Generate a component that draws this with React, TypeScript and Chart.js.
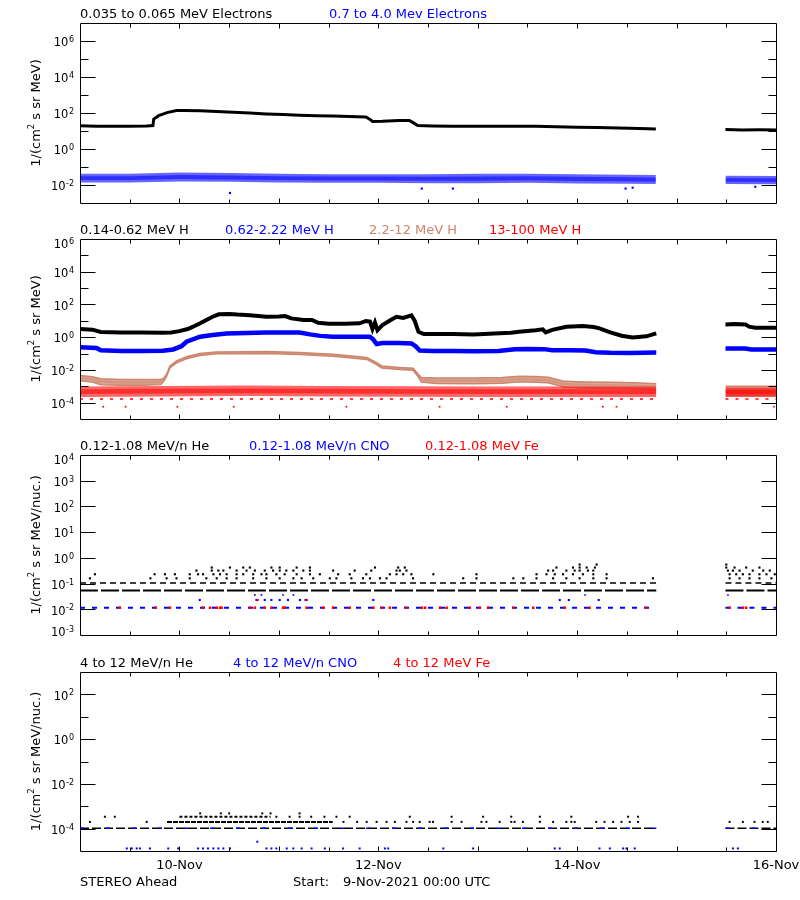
import React, { useEffect, useRef } from "react";
import { Chart, registerables } from "chart.js";

Chart.register(...registerables);

// ---------------- shared ----------------
const FONT = "'DejaVu Sans', 'Liberation Sans', sans-serif";
const C_BLACK = "#000000";
const C_BLUE = "#0000ff";
const C_RED = "#ff0000";
const C_TAN = "#cd856c";

const HOURS_MIN = 0;
const HOURS_MAX = 168;
const TICK_HOURS = [12, 24, 36, 48, 60, 72, 84, 96, 108, 120, 132, 144, 156];
const DAY_LABEL_HOURS = [24, 72, 120, 168];
const DAY_LABELS = ["10-Nov", "12-Nov", "14-Nov", "16-Nov"];
const FOOTER_LEFT = "STEREO Ahead";
const FOOTER_START = "Start:";
const FOOTER_DATE = "9-Nov-2021 00:00 UTC";
const DATA_SEGMENTS = [[0, 139.1], [155.8, 168]];

// ---------------- panel 1 : electrons ----------------
const P1_TITLES = ["0.035 to 0.065 MeV Electrons", "0.7 to 4.0 Mev Electrons"];
const E_LO_HOURS = [0, 4, 8, 12, 16, 17.6, 17.8, 19, 21, 23.3, 25, 29, 33, 37, 41, 45, 49, 53, 57, 61, 65, 69, 70.2, 70.6, 73, 77, 79.5, 80.5, 81.5, 85, 90, 95, 100, 105, 110, 115, 120, 125, 130, 135, 139, 147, 155.8, 160, 164, 168];
const E_LO_LOG10 = [1.29, 1.27, 1.26, 1.27, 1.28, 1.30, 1.66, 1.85, 2.02, 2.14, 2.14, 2.13, 2.08, 2.04, 2.0, 1.95, 1.91, 1.87, 1.85, 1.83, 1.81, 1.78, 1.62, 1.53, 1.54, 1.58, 1.58, 1.45, 1.30, 1.28, 1.27, 1.27, 1.26, 1.27, 1.26, 1.24, 1.21, 1.20, 1.17, 1.14, 1.11, null, 1.08, 1.06, 1.07, 1.06];
const E_HI_HOURS = [0, 12, 24, 36, 48, 60, 72, 84, 96, 108, 120, 132, 139, 147, 155.8, 168];
const E_HI_LOG10 = [-1.62, -1.62, -1.55, -1.58, -1.62, -1.64, -1.64, -1.65, -1.64, -1.63, -1.66, -1.68, -1.70, null, -1.72, -1.73];
const E_HI_SPREAD = [0.24, 0.24, 0.25, 0.24, 0.24, 0.24, 0.24, 0.25, 0.26, 0.25, 0.26, 0.25, 0.25, null, 0.23, 0.23];
const E_HI_OUT_HOURS = [36.2, 82.5, 90, 131.7, 133.4, 163];
const E_HI_OUT_LOG10 = [-2.44, -2.2, -2.2, -2.2, -2.15, -2.1];

// ---------------- panel 2 : protons ----------------
const P2_TITLES = ["0.14-0.62 MeV H", "0.62-2.22 MeV H", "2.2-12 MeV H", "13-100 MeV H"];
const H1_HOURS = [0, 3, 5, 10, 15, 20, 22, 24, 26, 27.3, 29, 30.5, 32, 33.5, 36, 38, 41, 45, 48, 49.5, 51, 54, 56, 57.5, 60, 64, 67.5, 69, 70, 70.6, 71.2, 71.8, 73, 75, 76.4, 78, 80, 80.8, 81.7, 83, 90, 95, 100, 104, 106, 110, 111.7, 112.4, 114, 117.4, 121.4, 124, 125.4, 128, 130.7, 133.4, 136.7, 139.1, 147, 155.8, 158, 160.6, 161.5, 163, 168];
const H1_LOG10 = [0.50, 0.46, 0.32, 0.29, 0.29, 0.27, 0.29, 0.37, 0.50, 0.64, 0.85, 1.05, 1.25, 1.40, 1.42, 1.38, 1.34, 1.25, 1.27, 1.29, 1.15, 1.05, 1.05, 0.88, 0.82, 0.82, 0.85, 0.99, 0.95, 0.50, 0.90, 0.43, 0.74, 1.05, 1.25, 1.18, 1.33, 1.00, 0.33, 0.19, 0.19, 0.17, 0.22, 0.27, 0.33, 0.42, 0.48, 0.29, 0.45, 0.64, 0.68, 0.62, 0.54, 0.29, 0.09, -0.02, 0.05, 0.23, null, 0.78, 0.80, 0.78, 0.64, 0.58, 0.58];
const H2_HOURS = [0, 4, 5, 10, 15, 20, 22.5, 24.5, 25.7, 29, 32, 35.4, 45, 53, 55.5, 58, 61, 66, 70, 70.8, 71.6, 73, 77, 80, 81, 82, 85, 90, 95, 101, 105, 108, 112, 114, 118, 122, 124.5, 128, 133, 139.1, 147, 155.8, 160.6, 162, 168];
const H2_LOG10 = [-0.62, -0.66, -0.80, -0.84, -0.84, -0.83, -0.75, -0.55, -0.28, 0.03, 0.13, 0.23, 0.29, 0.28, 0.17, 0.08, 0.03, 0.02, 0.02, -0.15, -0.42, -0.36, -0.36, -0.38, -0.55, -0.82, -0.85, -0.85, -0.86, -0.84, -0.74, -0.72, -0.73, -0.80, -0.80, -0.82, -0.92, -0.95, -0.96, -0.94, null, -0.69, -0.69, -0.75, -0.75];
const H3_HOURS = [0, 3, 5, 10, 15, 19.5, 20.2, 20.9, 21.7, 23.3, 25.7, 28.9, 32.9, 40, 45, 53, 61, 65, 69.2, 71.6, 72.8, 77.2, 80.4, 81.6, 82.4, 86, 95, 102, 106, 110, 113, 117, 122, 128, 134, 139.1, 147, 155.8, 168];
const H3_LOG10 = [-2.50, -2.58, -2.72, -2.76, -2.76, -2.74, -2.60, -2.33, -1.82, -1.51, -1.26, -1.06, -0.96, -0.95, -0.94, -1.00, -1.10, -1.20, -1.30, -1.61, -1.82, -1.92, -1.96, -2.33, -2.60, -2.66, -2.67, -2.64, -2.56, -2.58, -2.62, -2.88, -2.92, -2.94, -2.97, -3.02, null, -3.30, -3.30];
const H3_SPREAD = [0.16, 0.16, 0.18, 0.18, 0.18, 0.16, 0.10, 0.07, 0.06, 0.06, 0.06, 0.06, 0.06, 0.06, 0.06, 0.06, 0.06, 0.06, 0.06, 0.06, 0.06, 0.06, 0.06, 0.08, 0.14, 0.17, 0.17, 0.17, 0.17, 0.17, 0.17, 0.18, 0.18, 0.18, 0.18, 0.18, null, 0.3, 0.3];
const H4_HOURS = [0, 20, 40, 60, 80, 100, 120, 139.1, 147, 155.8, 168];
const H4_LOG10 = [-3.33, -3.30, -3.28, -3.30, -3.32, -3.33, -3.33, -3.34, null, -3.36, -3.36];
const H4_SPREAD = [0.32, 0.32, 0.32, 0.32, 0.32, 0.32, 0.32, 0.32, null, 0.28, 0.28];
const H4_LOW_ROW_LOG10 = -3.78;
const H4_OUT_HOURS = [5.6, 11, 23.5, 37.1, 64.3, 86.8, 103, 126.2, 129.5, 167.5];
const H4_OUT_LOG10 = -4.25;

// ---------------- panel 3 : 0.12-1.08 MeV/n ions ----------------
const P3_TITLES = ["0.12-1.08 MeV/n He", "0.12-1.08 MeV/n CNO", "0.12-1.08 MeV Fe"];
const HE3_ROW_LOW = 0.054;
const HE3_ROW_HIGH = 0.105;
const HE3_HOURS_AT_016 = [2.4, 17, 20.9, 23.3, 26.5, 30.5, 33, 35.4, 37.8, 41.8, 45, 48.2, 51.5, 53.5, 56.3, 60.3, 61.9, 65.5, 68.3, 70, 72.4, 74, 80.4, 92.5, 95.7, 104.6, 107, 110.2, 114.2, 117.4, 120.6, 123.9, 127.1, 138.3, 156.8, 159.2, 161.6, 164, 166.9];
const HE3_HOURS_AT_023 = [3.6, 18, 20.5, 22.9, 26.5, 28.5, 29.7, 32.2, 33.8, 35.4, 37.8, 39.4, 41.8, 43.8, 45, 47.4, 49.4, 52.3, 55.5, 57.9, 62.3, 65.1, 69.1, 74.8, 76.4, 78, 80, 85.3, 95.7, 110.2, 112.6, 114.6, 116.6, 119, 121.4, 123.9, 127.1, 156.8, 158.4, 160, 161.6, 164, 165.7, 167.7];
const HE3_HOURS_AT_032 = [28.1, 31.8, 33.4, 34.6, 37.8, 40.2, 42.2, 44.6, 46.6, 48.2, 49.8, 51.5, 53.9, 55.5, 61.1, 66.3, 70.3, 76.4, 77.2, 78.8, 113, 114.2, 117.4, 119.4, 120.6, 122.6, 123.9, 156.4, 157.6, 159.2, 162.4, 164.9, 166.5];
const HE3_HOURS_AT_042 = [31.8, 36.2, 39.4, 41, 46.2, 48.2, 52.3, 55.5, 71.2, 76.8, 78.4, 115, 119, 120.6, 122.3, 124.3, 156, 158, 160.8, 164];
const HE3_HOURS_AT_055 = [120.6, 124.7, 156];
const CNO3_ROW = 0.0115;
const CNO3_HOURS_AT_0023 = [28.9, 42.6, 44.6, 46.2, 48.2, 50.2, 53.1, 54.7, 70.8, 115.8, 118, 125.2];
const CNO3_HOURS_AT_0036 = [42.2, 43.8, 49, 51.5, 121.9, 156.4];
const FE3_HOURS_AT_00115 = [9.6, 18.3, 21.7, 29.7, 31.4, 33, 33.8, 34.2, 41, 42.2, 44.6, 46.2, 49, 49.4, 54.7, 58.7, 61.1, 65.1, 70.8, 72.8, 74.8, 78.8, 82.5, 83.3, 86.9, 88.5, 94.1, 96.5, 98.5, 104.6, 109.4, 117, 123, 136.7, 156.8, 160, 160.8];
const FE3_HOURS_AT_0023 = [42.9, 54.4];

// ---------------- panel 4 : 4-12 MeV/n ions ----------------
const P4_TITLES = ["4 to 12 MeV/n He", "4 to 12 MeV/n CNO", "4 to 12 MeV Fe"];
const HE4_ROW = 1.05e-4;
const HE4_LEVEL_2 = 2.0e-4;
const HE4_LEVEL_3 = 3.4e-4;
const HE4_LEVEL_4 = 4.8e-4;
const HE4_DENSE_2 = [21, 61];
const HE4_DENSE_3 = [24, 46];
const HE4_HOURS_AT_2 = [2.4, 16.1, 63.6, 66.9, 69.2, 71.6, 74, 76, 78.8, 80.4, 82, 84.4, 85.2, 89.7, 92.1, 96.9, 98.1, 101.3, 104.1, 104.9, 106.9, 111, 114.2, 117.4, 118.6, 119.4, 124.6, 126.6, 128.7, 130.7, 132.7, 134.7, 156.8, 160, 162.8, 164.8, 166];
const HE4_HOURS_AT_3 = [6, 8.4, 47.4, 50.6, 53, 55.8, 59, 61.9, 65.1, 79.6, 89.7, 97.3, 104.1, 111, 118.6, 132.3, 134.7];
const HE4_HOURS_AT_4 = [29, 34, 36, 44, 46, 53];
const CNO4_LOW = 1.3e-5;
const CNO4_HOURS_AT_LOW = [11.3, 12.5, 13.7, 14.5, 16.9, 21.3, 23.7, 28.5, 29.7, 30.9, 32.2, 33.4, 34.6, 36.2, 45, 46.2, 47.4, 49.9, 51.5, 53.5, 55.9, 59.1, 63.5, 67.5, 73.6, 74.4, 87.7, 94.9, 114.6, 115.8, 125.4, 127.9, 131.1, 131.9, 133.9, 157.6, 158.8];
const CNO4_MID = 2.6e-5;
const CNO4_HOURS_AT_MID = [42.8];

const Y_TITLE_MEV = ["1/(cm", "2", " s sr MeV)"];
const Y_TITLE_NUC = ["1/(cm", "2", " s sr MeV/nuc.)"];

// ---------------- helpers ----------------
const logPoints = (hours, logs) => hours.map((h, i) => ({ x: h, y: logs[i] === null ? null : Math.pow(10, logs[i]) }));
const bandPoints = (hours, logs, spread, k) => hours.map((h, i) => ({ x: h, y: logs[i] === null ? null : Math.pow(10, logs[i] + k * spread[i]) }));
const levelPoints = (hours, value) => hours.map((h) => ({ x: h, y: value }));
const rowPoints = (segments, value) => {
  const pts = [];
  segments.forEach((s, i) => {
    if (i > 0) pts.push({ x: (segments[i - 1][1] + s[0]) / 2, y: null });
    pts.push({ x: s[0], y: value }, { x: s[1], y: value });
  });
  return pts;
};

const lineDs = (data, color, width, extra = {}) => ({
  data, borderColor: color, backgroundColor: color, borderWidth: width,
  pointRadius: 0, pointHoverRadius: 0, fill: false, spanGaps: false, ...extra,
});
const dotDs = (data, color, radius, extra = {}) => ({
  data, showLine: false, borderColor: color, backgroundColor: color,
  pointBackgroundColor: color, pointBorderWidth: 0, pointRadius: radius,
  pointHoverRadius: 0, pointStyle: "rect", ...extra,
});
// a noisy band: outer envelope filled, inner (half-spread) core filled again -> denser centre
const bandDs = (hours, logs, spread, edgeColor, outerFill, innerFill, edge, order) => {
  const mk = (k, fill, w, bg) => ({
    data: bandPoints(hours, logs, spread, k), borderColor: edgeColor, backgroundColor: bg,
    borderWidth: w, pointRadius: 0, pointHoverRadius: 0, fill, spanGaps: false, order,
  });
  return [mk(1, "+1", edge, outerFill), mk(-1, false, edge, outerFill), mk(0.45, "+1", 0, innerFill), mk(-0.45, false, 0, innerFill)];
};

// ---------------- panel specs ----------------
const PANELS = [
  {
    top: 0, height: 216, padTop: 23, padBottom: 13, yMinExp: -3, yMaxExp: 7,
    majors: [-2, 0, 2, 4, 6], minors: [-1, 1, 3, 5], labels: [-2, 0, 2, 4, 6],
    titles: [{ text: P1_TITLES[0], color: C_BLACK, x: 80 }, { text: P1_TITLES[1], color: C_BLUE, x: 329 }],
    yTitle: Y_TITLE_MEV, dates: false,
    datasets: () => [
      lineDs(logPoints(E_LO_HOURS, E_LO_LOG10), C_BLACK, 3, { order: 1 }),
      ...bandDs(E_HI_HOURS, E_HI_LOG10, E_HI_SPREAD, "rgba(0,0,255,0)", "rgba(0,0,255,0.6)", "rgba(0,0,255,0.55)", 0, 2),
      dotDs(logPoints(E_HI_OUT_HOURS, E_HI_OUT_LOG10), C_BLUE, 1.5, { order: 2 }),
    ],
  },
  {
    top: 216, height: 216, padTop: 23, padBottom: 13, yMinExp: -5, yMaxExp: 6,
    majors: [-4, -2, 0, 2, 4], minors: [-3, -1, 1, 3, 5], labels: [-4, -2, 0, 2, 4, 6],
    titles: [
      { text: P2_TITLES[0], color: C_BLACK, x: 80 }, { text: P2_TITLES[1], color: C_BLUE, x: 225 },
      { text: P2_TITLES[2], color: C_TAN, x: 369 }, { text: P2_TITLES[3], color: C_RED, x: 489 },
    ],
    yTitle: Y_TITLE_MEV, dates: false,
    datasets: () => [
      lineDs(logPoints(H1_HOURS, H1_LOG10), C_BLACK, 4, { order: 1 }),
      lineDs(logPoints(H2_HOURS, H2_LOG10), C_BLUE, 4.5, { order: 2 }),
      ...bandDs(H3_HOURS, H3_LOG10, H3_SPREAD, C_TAN, "rgba(205,133,108,0.7)", "rgba(205,133,108,0.5)", 1.5, 4),
      ...bandDs(H4_HOURS, H4_LOG10, H4_SPREAD, "rgba(255,0,0,0)", "rgba(255,0,0,0.6)", "rgba(255,0,0,0.55)", 0, 3),
      lineDs(rowPoints(DATA_SEGMENTS, Math.pow(10, H4_LOW_ROW_LOG10)), C_RED, 1.5, { borderDash: [3, 7], order: 3 }),
      dotDs(levelPoints(H4_OUT_HOURS, Math.pow(10, H4_OUT_LOG10)), C_RED, 1.2, { order: 3 }),
    ],
  },
  {
    top: 432, height: 216, padTop: 23, padBottom: 13, yMinExp: -3, yMaxExp: 4,
    majors: [-2, -1, 0, 1, 2, 3], minors: [], labels: [-3, -2, -1, 0, 1, 2, 3, 4],
    titles: [
      { text: P3_TITLES[0], color: C_BLACK, x: 80 }, { text: P3_TITLES[1], color: C_BLUE, x: 249 },
      { text: P3_TITLES[2], color: C_RED, x: 425 },
    ],
    yTitle: Y_TITLE_NUC, dates: false,
    datasets: () => [
      lineDs(rowPoints(DATA_SEGMENTS, HE3_ROW_LOW), C_BLACK, 2, { borderDash: [18, 3] }),
      lineDs(rowPoints(DATA_SEGMENTS, HE3_ROW_HIGH), C_BLACK, 1.6, { borderDash: [6, 4] }),
      dotDs(levelPoints(HE3_HOURS_AT_016, 0.16), C_BLACK, 1.5),
      dotDs(levelPoints(HE3_HOURS_AT_023, 0.23), C_BLACK, 1.5),
      dotDs(levelPoints(HE3_HOURS_AT_032, 0.32), C_BLACK, 1.5),
      dotDs(levelPoints(HE3_HOURS_AT_042, 0.42), C_BLACK, 1.5),
      dotDs(levelPoints(HE3_HOURS_AT_055, 0.55), C_BLACK, 1.5),
      dotDs(levelPoints(FE3_HOURS_AT_00115, CNO3_ROW), C_RED, 1.8),
      dotDs(levelPoints(FE3_HOURS_AT_0023, 0.023), C_RED, 1.5),
      lineDs(rowPoints([[0, 137.5], [155.8, 168]], CNO3_ROW), C_BLUE, 2, { borderDash: [5, 7] }),
      dotDs(levelPoints(CNO3_HOURS_AT_0023, 0.023), C_BLUE, 1.5),
      dotDs(levelPoints(CNO3_HOURS_AT_0036, 0.036), C_BLUE, 1.2),
    ],
  },
  {
    top: 648, height: 252, padTop: 24, padBottom: 49, yMinExp: -5, yMaxExp: 3,
    majors: [-4, -2, 0, 2], minors: [-3, -1, 1], labels: [-4, -2, 0, 2],
    titles: [
      { text: P4_TITLES[0], color: C_BLACK, x: 80 }, { text: P4_TITLES[1], color: C_BLUE, x: 233 },
      { text: P4_TITLES[2], color: C_RED, x: 393 },
    ],
    yTitle: Y_TITLE_NUC, dates: true,
    datasets: () => [
      lineDs(rowPoints(DATA_SEGMENTS, HE4_ROW), C_BLUE, 1.5, { borderDash: [4, 22], order: 0 }),
      lineDs(rowPoints(DATA_SEGMENTS, HE4_ROW), C_BLACK, 1.5, { borderDash: [9, 3], order: 1 }),
      lineDs(rowPoints([HE4_DENSE_2], HE4_LEVEL_2), C_BLACK, 2, { borderDash: [5, 1], order: 1 }),
      lineDs(rowPoints([HE4_DENSE_3], HE4_LEVEL_3), C_BLACK, 2, { borderDash: [3, 2], order: 1 }),
      dotDs(levelPoints(HE4_HOURS_AT_2, HE4_LEVEL_2), C_BLACK, 1.4, { order: 1 }),
      dotDs(levelPoints(HE4_HOURS_AT_3, HE4_LEVEL_3), C_BLACK, 1.4, { order: 1 }),
      dotDs(levelPoints(HE4_HOURS_AT_4, HE4_LEVEL_4), C_BLACK, 1.4, { order: 1 }),
      dotDs(levelPoints(CNO4_HOURS_AT_LOW, CNO4_LOW), C_BLUE, 1.4, { order: 1 }),
      dotDs(levelPoints(CNO4_HOURS_AT_MID, CNO4_MID), C_BLUE, 1.4, { order: 1 }),
    ],
  },
];

// ---------------- axes / frame plugin ----------------
function drawPower(ctx, exp, xRight, yTick) {
  ctx.textAlign = "right";
  ctx.textBaseline = "alphabetic";
  ctx.font = `8px ${FONT}`;
  const es = exp < 0 ? `-${-exp}` : String(exp);
  const w = ctx.measureText(es).width;
  ctx.fillText(es, xRight, yTick + 1);
  ctx.font = `11.5px ${FONT}`;
  ctx.fillText("10", xRight - w - 0.5, yTick + 5.3);
}

function makeAxesPlugin(spec) {
  return {
    id: "idlAxes",
    afterDraw(chart) {
      const { ctx, chartArea } = chart;
      const xs = chart.scales.x;
      const ys = chart.scales.y;
      const L = Math.floor(chartArea.left) + 0.5;
      const R = Math.floor(chartArea.right) + 0.5;
      const T = Math.floor(chartArea.top) + 0.5;
      const B = Math.floor(chartArea.bottom) + 0.5;
      ctx.save();
      ctx.strokeStyle = C_BLACK;
      ctx.lineWidth = 1;
      ctx.setLineDash([]);
      ctx.beginPath();
      ctx.rect(L, T, R - L, B - T);
      for (const h of TICK_HOURS) {
        const px = Math.round(xs.getPixelForValue(h)) + 0.5;
        const len = h % 24 === 0 ? 5 : 4;
        ctx.moveTo(px, T); ctx.lineTo(px, T + len);
        ctx.moveTo(px, B); ctx.lineTo(px, B - len);
      }
      for (const e of spec.majors) {
        const py = Math.round(ys.getPixelForValue(Math.pow(10, e))) + 0.5;
        ctx.moveTo(L, py); ctx.lineTo(L + 15, py);
        ctx.moveTo(R, py); ctx.lineTo(R - 15, py);
      }
      for (const e of spec.minors) {
        const py = Math.round(ys.getPixelForValue(Math.pow(10, e))) + 0.5;
        ctx.moveTo(L, py); ctx.lineTo(L + 8, py);
        ctx.moveTo(R, py); ctx.lineTo(R - 8, py);
      }
      ctx.stroke();

      // y tick labels
      ctx.fillStyle = C_BLACK;
      for (const e of spec.labels) {
        let py = ys.getPixelForValue(Math.pow(10, e));
        if (Math.abs(py - chartArea.top) < 1) py += 3.8;
        if (Math.abs(py - chartArea.bottom) < 1) py -= 4;
        drawPower(ctx, e, 74, py);
      }

      // titles
      ctx.textAlign = "left";
      ctx.textBaseline = "alphabetic";
      ctx.font = `13px ${FONT}`;
      for (const t of spec.titles) {
        ctx.fillStyle = t.color;
        ctx.fillText(t.text, t.x, chartArea.top - 5.3);
      }

      // y axis title
      ctx.fillStyle = C_BLACK;
      ctx.save();
      ctx.translate(39.5, (chartArea.top + chartArea.bottom) / 2);
      ctx.rotate(-Math.PI / 2);
      ctx.font = `13px ${FONT}`;
      const wa = ctx.measureText(spec.yTitle[0]).width;
      const wc = ctx.measureText(spec.yTitle[2]).width;
      ctx.font = `8.5px ${FONT}`;
      const wb = ctx.measureText(spec.yTitle[1]).width;
      const start = -(wa + wb + wc) / 2;
      ctx.textAlign = "left";
      ctx.font = `13px ${FONT}`;
      ctx.fillText(spec.yTitle[0], start, 0);
      ctx.fillText(spec.yTitle[2], start + wa + wb, 0);
      ctx.font = `8.5px ${FONT}`;
      ctx.fillText(spec.yTitle[1], start + wa, -6);
      ctx.restore();

      // dates & footer
      if (spec.dates) {
        ctx.font = `13px ${FONT}`;
        ctx.textAlign = "center";
        DAY_LABEL_HOURS.forEach((h, i) => {
          ctx.fillText(DAY_LABELS[i], xs.getPixelForValue(h), chartArea.bottom + 18);
        });
        ctx.textAlign = "left";
        ctx.fillText(FOOTER_LEFT, 80, chartArea.bottom + 34.5);
        ctx.fillText(FOOTER_START, 293, chartArea.bottom + 34.5);
        ctx.fillText(FOOTER_DATE, 343, chartArea.bottom + 34.5);
      }
      ctx.restore();
    },
  };
}

function Panel({ spec }) {
  const ref = useRef(null);
  useEffect(() => {
    const chart = new Chart(ref.current, {
      type: "line",
      data: { datasets: spec.datasets() },
      options: {
        responsive: false,
        animation: false,
        devicePixelRatio: 1,
        events: [],
        layout: { padding: { left: 80, right: 24, top: spec.padTop, bottom: spec.padBottom } },
        scales: {
          x: { type: "linear", min: HOURS_MIN, max: HOURS_MAX, display: false },
          y: { type: "logarithmic", min: Math.pow(10, spec.yMinExp), max: Math.pow(10, spec.yMaxExp), display: false },
        },
        plugins: { legend: { display: false }, tooltip: { enabled: false }, title: { display: false } },
        elements: { line: { tension: 0 }, point: { radius: 0, hoverRadius: 0 } },
      },
      plugins: [makeAxesPlugin(spec)],
    });
    return () => chart.destroy();
  }, [spec]);
  return (
    <canvas
      ref={ref}
      width={800}
      height={spec.height}
      style={{ position: "absolute", left: 0, top: spec.top, width: 800, height: spec.height, display: "block" }}
    />
  );
}

export default function App() {
  return (
    <div style={{ position: "absolute", left: 0, top: 0, width: 800, height: 900, background: "#ffffff", overflow: "hidden" }}>
      {PANELS.map((p, i) => (
        <Panel key={i} spec={p} />
      ))}
    </div>
  );
}
